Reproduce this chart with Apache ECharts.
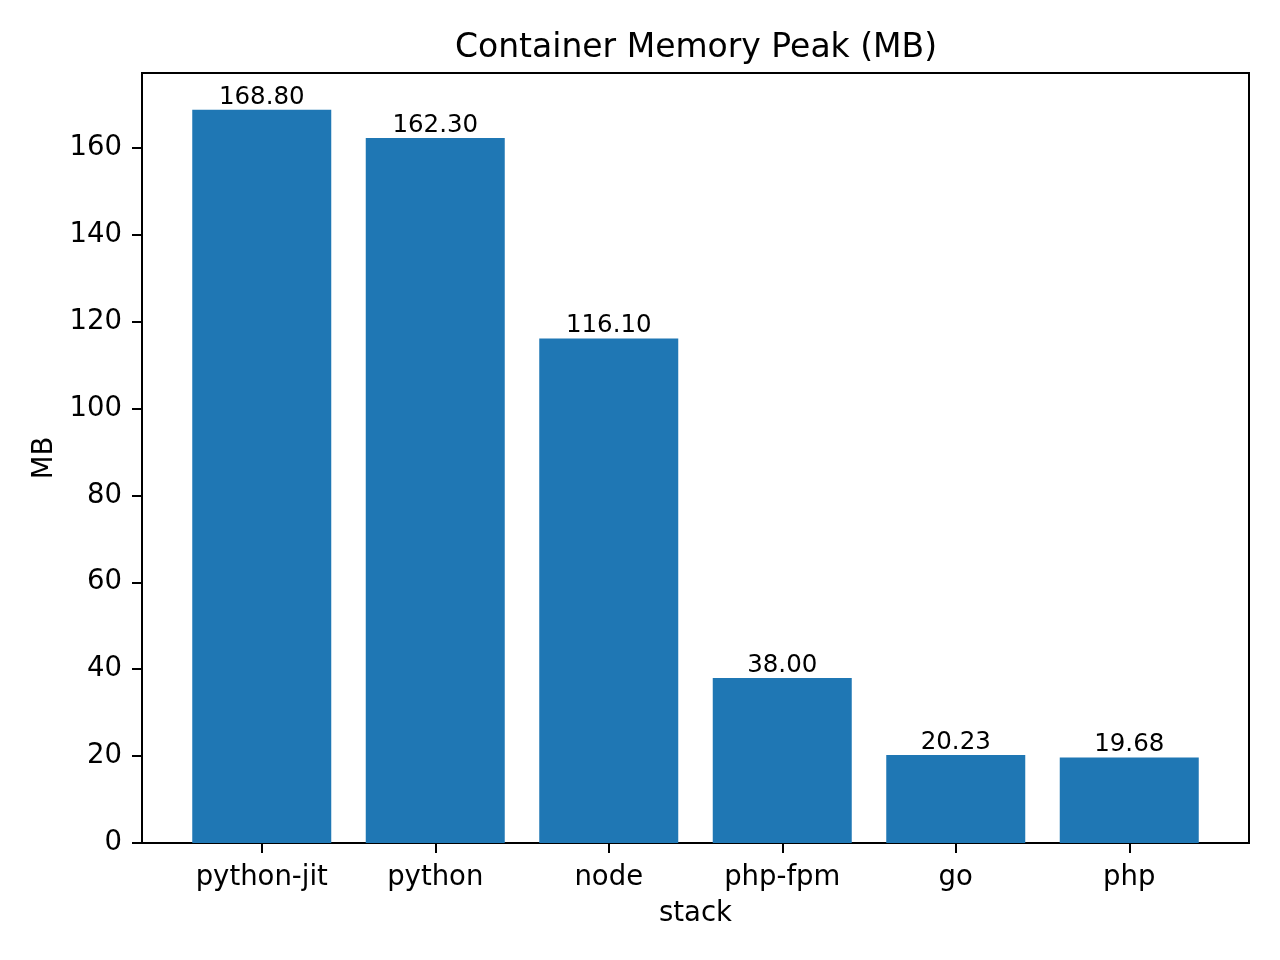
<!DOCTYPE html>
<html lang="en">
<head>
    <meta charset="UTF-8">
    <title>Container Memory Peak</title>
    <script src="https://cdn.jsdelivr.net/npm/echarts@6/dist/echarts.min.js"></script>
    <style>
        html, body { margin: 0; padding: 0; background: #fff; }
        #main { width: 1280px; height: 960px; }
    </style>
</head>
<body>
<div id="main"></div>
<script>
    var stacks = ['python-jit', 'python', 'node', 'php-fpm', 'go', 'php'];
    var memPeak = [168.80, 162.30, 116.10, 38.00, 20.23, 19.68];
    var yMax = 177.24;

    var font = 'DejaVu Sans';
    var chart = echarts.init(document.getElementById('main'));

    // outer frame grid (axes box) + inner grid holding the bars,
    // inset like matplotlib's 5% x-margin
    var unit = 1107 / 6.38;
    var inset = Math.round(0.19 * unit);

    chart.setOption({
        animation: false,
        textStyle: {fontFamily: font},
        title: {
            text: 'Container Memory Peak (MB)',
            left: 691,
            textAlign: 'center',
            top: 27,
            textStyle: {fontFamily: font, fontSize: 33, fontWeight: 'normal', color: '#000'}
        },
        grid: [
            {left: 142, right: 31, top: 73, bottom: 117, show: true, borderColor: '#000', borderWidth: 2, backgroundColor: 'transparent'},
            {left: 142 + inset, right: 31 + inset, top: 73, bottom: 117}
        ],
        xAxis: [
            {type: 'value', gridIndex: 0, min: 0, max: 1, show: false},
            {
                type: 'category', gridIndex: 1, data: stacks,
                name: 'stack', nameLocation: 'middle', nameGap: 57,
                nameTextStyle: {fontSize: 27.5, color: '#000', fontFamily: font},
                axisLine: {show: false},
                axisTick: {show: true, alignWithLabel: true, length: 10, lineStyle: {color: '#000', width: 2}},
                axisLabel: {fontSize: 27.5, color: '#000', margin: 21, fontFamily: font}
            }
        ],
        yAxis: [
            {
                type: 'value', gridIndex: 0, min: 0, max: yMax, interval: 20,
                name: 'MB', nameLocation: 'middle', nameGap: 82, nameRotate: 90,
                nameTextStyle: {fontSize: 27.5, color: '#000', fontFamily: font},
                axisLine: {show: true, lineStyle: {color: '#000', width: 2}},
                axisTick: {show: true, length: 10, lineStyle: {color: '#000', width: 2}},
                axisLabel: {fontSize: 27.5, color: '#000', margin: 20, showMaxLabel: false, fontFamily: font},
                splitLine: {show: false}
            },
            {type: 'value', gridIndex: 1, min: 0, max: yMax, show: false, splitLine: {show: false}}
        ],
        series: [{
            type: 'bar',
            xAxisIndex: 1,
            yAxisIndex: 1,
            data: memPeak,
            barWidth: Math.round(0.8 * unit),
            itemStyle: {color: '#1f77b4'},
            label: {
                show: true,
                position: 'top',
                distance: 0,
                fontSize: 24.5,
                color: '#000',
                fontFamily: font,
                formatter: function (p) { return p.value.toFixed(2); }
            }
        }]
    });
</script>
</body>
</html>
